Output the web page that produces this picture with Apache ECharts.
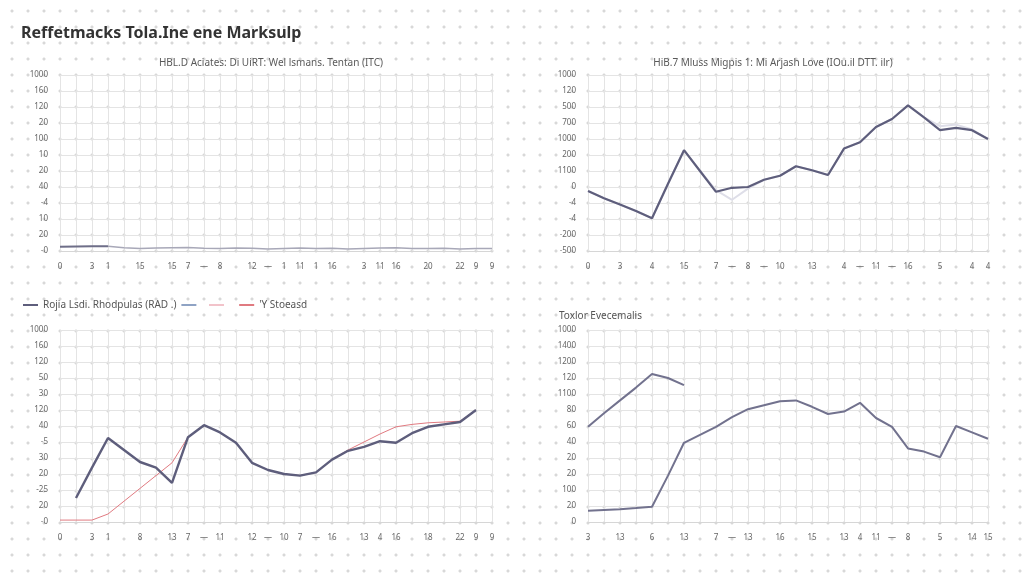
<!DOCTYPE html>
<html><head><meta charset="utf-8">
<script src="https://cdn.jsdelivr.net/npm/echarts@6/dist/echarts.min.js"></script>
<style>
html,body{margin:0;padding:0;background:#fff;}
#c{width:1024px;height:576px;background-color:#fff;
background-image:radial-gradient(circle at 8px 8px,#d8d8d8 0,#d8d8d8 1.1px,rgba(255,255,255,0) 1.9px);
background-size:16px 16px;background-position:4px 3px;}
</style></head><body><div id="c"></div>
<script>
// ---------- text ----------
const mainTitle = "Reffetmacks Tola.Ine ene Marksulp";
const subTitleTL = "HBL.D Aciates: Di UiRT: Wel lsmans. Tentan (ITC)";
const subTitleTR = "HiB.7 Mluss Migpis 1: Mi Arjash Love (IOu.il DTT. ilr)";
const titleBR = "Toxlor Evecemalis";
const nameDark = "Rojia Lsdi. Rhodpulas (RAD .)";
const nameBlue = " ";
const namePink = "  ";
const nameRed = "'Y Stoeasd";

// ---------- categories (x tick labels) ----------
const xTL = ["0","","3","1","","15","","15","7","\u2014","8","","12","\u2014","1","11","1","16","","3","11","16","","20","","22","9","9"];
const xTR = ["0","","3","","4","","15","","7","\u2014","8","\u2014","10","","13","","4","\u2014","11","\u2014","16","","5","","4","4"];
const xBL = ["0","","3","1","","8","","13","7","\u2014","11","","12","\u2014","10","7","\u2014","16","","13","4","16","","18","","22","9","9"];
const xBR = ["3","","13","","6","","13","","7","\u2014","13","","16","","15","","13","4","11","\u2014","8","","5","","14","15"];

// ---------- y tick labels (bottom to top) ----------
const yTL = ["-0","20","10","-4","40","20","10","100","20","120","160","1000"];
const yTR = ["-500","-200","-4","-4","0","1100","200","1000","700","500","120","1000"];
const yBL = ["-0","20","-25","20","30","-5","40","120","30","50","120","160","1000"];
const yBR = ["0","20","100","20","20","40","60","80","1100","120","1200","1400","1000"];

// ---------- series values (in tick units) ----------
const valTLa = [0.27,0.28,0.29,0.3,null,null,null,null,null,null,null,null,null,null,null,null,null,null,null,null,null,null,null,null,null,null,null,null];
const valTLb = [null,null,null,0.3,0.2,0.16,0.18,0.2,0.22,0.17,0.15,0.18,0.17,0.13,0.16,0.19,0.15,0.17,0.13,0.16,0.18,0.2,0.16,0.15,0.17,0.13,0.16,0.15];
const valTR = [3.75,3.3,2.9,2.5,2.05,4.2,6.3,5.0,3.7,3.95,4.0,4.45,4.7,5.3,5.05,4.75,6.4,6.8,7.75,8.25,9.1,8.35,7.55,7.7,7.55,7.0];
const valTRlight = [3.75,3.3,2.9,2.5,2.05,4.2,6.3,5.0,3.8,3.2,3.9,4.45,4.7,5.3,5.05,4.75,6.4,6.8,7.75,8.25,9.1,8.35,7.8,7.9,7.6,7.0];
const valBLdark = [null,1.5,3.4,5.25,4.5,3.75,3.4,2.45,5.3,6.05,5.6,4.95,3.7,3.25,3.0,2.9,3.1,3.9,4.45,4.7,5.05,4.95,5.55,5.95,6.1,6.25,7.0,null];
const valBLred = [0.12,0.12,0.12,0.5,1.3,2.1,2.9,3.7,5.3,6.05,5.6,4.95,3.7,3.25,3.0,2.9,3.1,3.9,4.5,5.0,5.5,5.95,6.1,6.2,6.25,6.3,7.0,null];
const valBRa = [5.95,6.8,7.6,8.4,9.25,9.0,8.55,null,null,null,null,null,null,null,null,null,null,null,null,null,null,null,null,null,null,null];
const valBRb = [0.7,0.75,0.8,0.87,0.95,2.9,4.95,5.45,5.95,6.55,7.05,7.3,7.55,7.6,7.2,6.75,6.9,7.45,6.5,5.95,4.6,4.4,4.05,6.0,5.6,5.2];

// ---------- chart ----------
const FONT = "Noto Sans";
const GRID_C = "#e4e4e4";
const LABEL_C = "#666";
const DARK = "#5e5e7c";

function xAxis(gi, data) {
  return {
    type: "category", gridIndex: gi, data: data, boundaryGap: false,
    axisLine: { lineStyle: { color: "#d6d6d6" } },
    axisTick: { show: false },
    axisLabel: { interval: 0, fontSize: 8, color: LABEL_C, fontFamily: FONT, margin: 12 },
    splitLine: { show: true, interval: 0, lineStyle: { color: GRID_C } }
  };
}
function yAxis(gi, labels) {
  return {
    type: "value", gridIndex: gi, min: 0, max: labels.length - 1, interval: 1,
    axisLine: { show: false }, axisTick: { show: false },
    axisLabel: { fontSize: 8, color: LABEL_C, fontFamily: FONT, margin: 12,
      formatter: v => labels[Math.round(v)] },
    splitLine: { show: true, lineStyle: { color: GRID_C } }
  };
}
function line(name, xi, data, color, width, z, type) {
  return {
    name: name, type: "line", xAxisIndex: xi, yAxisIndex: xi, data: data,
    symbol: "none", smooth: false, z: z || 2,
    lineStyle: { color: color, width: width, type: type || "solid" },
    itemStyle: { color: color }
  };
}

const chart = echarts.init(document.getElementById("c"), null, { renderer: "canvas" });
chart.setOption({
  backgroundColor: "transparent",
  animation: false,
  textStyle: { fontFamily: FONT },
  title: [
    { text: mainTitle, left: 16, top: 20, textStyle: { fontSize: 16, fontWeight: "bold", color: "#333", fontFamily: FONT } },
    { text: subTitleTL, left: 266, top: 53, textAlign: "center", textStyle: { fontSize: 10, fontWeight: "normal", color: "#5a5a5a", fontFamily: FONT } },
    { text: subTitleTR, left: 768, top: 53, textAlign: "center", textStyle: { fontSize: 10, fontWeight: "normal", color: "#5a5a5a", fontFamily: FONT } },
    { text: titleBR, left: 554, top: 306, textStyle: { fontSize: 10, fontWeight: "normal", color: "#555", fontFamily: FONT } }
  ],
  legend: {
    left: 18, top: 295, itemWidth: 15, itemHeight: 2, itemGap: 5, icon: "rect",
    textStyle: { fontSize: 10, color: "#555", fontFamily: FONT },
    data: [nameDark, nameBlue, namePink, nameRed]
  },
  grid: [
    { left: 60, right: 532, top: 75, bottom: 325 },
    { left: 588, right: 36, top: 75, bottom: 325 },
    { left: 60, right: 532, top: 330, bottom: 54 },
    { left: 588, right: 36, top: 330, bottom: 54 }
  ],
  xAxis: [xAxis(0, xTL), xAxis(1, xTR), xAxis(2, xBL), xAxis(3, xBR)],
  yAxis: [yAxis(0, yTL), yAxis(1, yTR), yAxis(2, yBL), yAxis(3, yBR)],
  series: [
    line("tlA", 0, valTLa, "#6e6e88", 2, 3),
    line("tlB", 0, valTLb, "#a8a8b8", 1.5, 2),
    line("trLight", 1, valTRlight, "#dedee8", 2, 2),
    line("tr", 1, valTR, DARK, 2.2, 3),
    line(nameRed, 2, valBLred, "#e07a80", 1, 2),
    line(nameDark, 2, valBLdark, DARK, 2.4, 3),
    line(nameBlue, 2, [], "#8fa3c4", 1.5, 1),
    line(namePink, 2, [], "#f2c3ca", 1.5, 1, "dashed"),
    line("bra", 3, valBRa, "#72728e", 2, 3),
    line("brb", 3, valBRb, "#72728e", 2, 3)
  ]
});
</script></body></html>
